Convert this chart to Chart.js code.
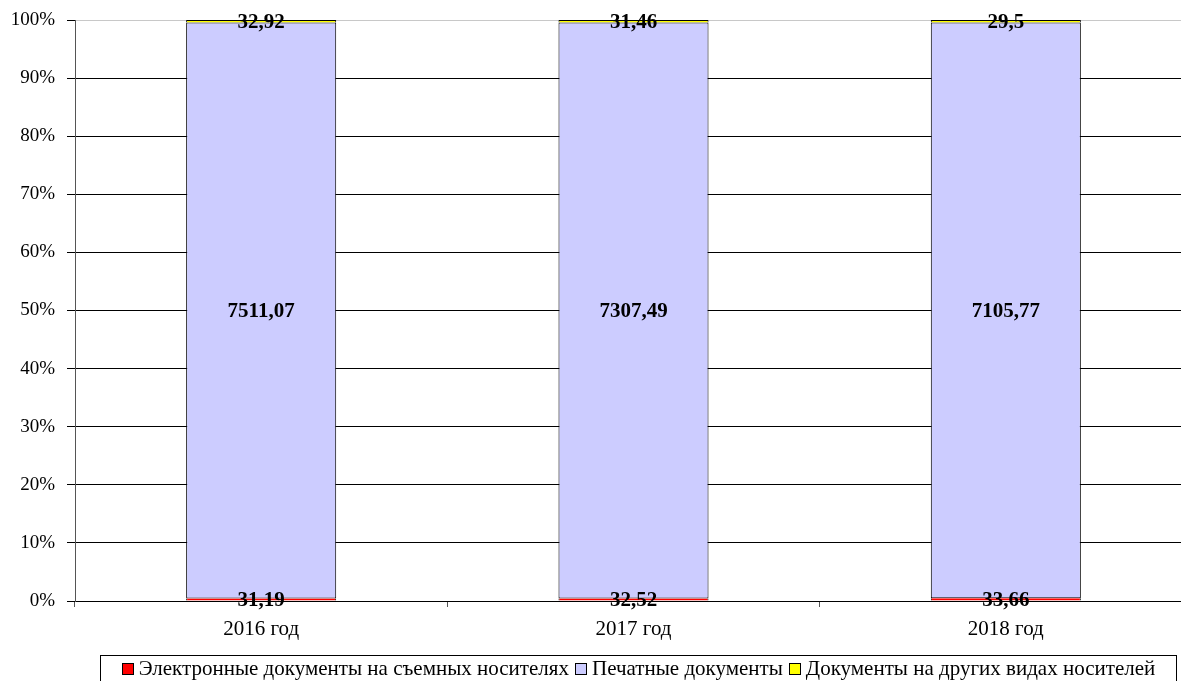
<!DOCTYPE html>
<html>
<head>
<meta charset="utf-8">
<script src="https://cdn.jsdelivr.net/npm/chart.js@4/dist/chart.umd.min.js"></script>
<style>
  html, body { margin: 0; padding: 0; background: #fff; overflow: hidden; }
  #wrap { position: relative; width: 1181px; height: 681px; overflow: hidden; }
  #c { position: absolute; left: 0; top: 0; }
  #legend {
    position: absolute; left: 100px; top: 655px; width: 1077px; height: 40px;
    border: 1px solid #000; box-sizing: border-box;
    font-family: "Liberation Serif", "Times New Roman", serif; font-size: 21px; color: #000;
    display: flex; justify-content: center; align-items: flex-start; padding-top: 0px; white-space: nowrap;
  }
  .li { display: inline-flex; align-items: center; margin: 0 3px; }
  .sw { width: 10px; height: 10px; border: 1px solid #000; margin-right: 5px; display: inline-block; }
</style>
</head>
<body>
<div id="wrap">
  <canvas id="c" width="1195" height="681"></canvas>
  <div id="legend"></div>
</div>
<script>
const categories = ["2016 год", "2017 год", "2018 год"];
const seriesNames = ["Электронные документы на съемных носителях", "Печатные документы", "Документы на других видах носителей"];
const electronic = [31.19, 32.52, 33.66];
const printed = [7511.07, 7307.49, 7105.77];
const other = [32.92, 31.46, 29.5];
const yTicks = [0, 10, 20, 30, 40, 50, 60, 70, 80, 90, 100];
const colors = ["#ff0000", "#ccccff", "#ffff00"];

const raw = [electronic, printed, other];
const totals = categories.map((_, i) => raw.reduce((s, arr) => s + arr[i], 0));
const pct = raw.map(arr => arr.map((v, i) => v / totals[i] * 100));

function fmt(v) { return String(v).replace('.', ','); }

const labelPlugin = {
  id: 'segLabels',
  afterDatasetsDraw(chart) {
    const ctx = chart.ctx;
    ctx.save();
    ctx.font = 'bold 21px "Liberation Serif", "Times New Roman", serif';
    ctx.fillStyle = '#000';
    ctx.textAlign = 'center';
    ctx.textBaseline = 'middle';
    chart.data.datasets.forEach((ds, di) => {
      const meta = chart.getDatasetMeta(di);
      meta.data.forEach((el, i) => {
        const p = el.getProps(['x', 'y', 'base'], true);
        ctx.fillText(fmt(raw[di][i]), p.x, (p.y + p.base) / 2 + 1);
      });
    });
    ctx.restore();
  }
};

const borders = [
  { left: 1, right: 1, top: 0, bottom: 0 },
  { left: 1, right: 1, top: 1, bottom: 1 },
  { left: 1, right: 1, top: 1, bottom: 0 }
];

new Chart(document.getElementById('c'), {
  type: 'bar',
  data: {
    labels: categories,
    datasets: seriesNames.map((n, i) => ({
      label: n,
      data: pct[i],
      backgroundColor: colors[i],
      borderColor: '#000',
      borderWidth: borders[i],
      borderSkipped: false,
      barPercentage: 0.403,
      categoryPercentage: 1
    }))
  },
  options: {
    responsive: false,
    animation: false,
    devicePixelRatio: 1,
    layout: { padding: { top: 20, left: 0, right: 3, bottom: 0 } },
    plugins: { legend: { display: false }, tooltip: { enabled: false } },
    scales: {
      x: {
        stacked: true,
        afterFit(s) { s.height = 80; s.paddingLeft = 0; s.paddingRight = 0; },
        grid: { drawOnChartArea: false, drawTicks: true, tickLength: 6, color: '#555', offset: true },
        border: { display: true, color: '#000' },
        ticks: { padding: 10, color: '#000', font: { family: '"Liberation Serif", "Times New Roman", serif', size: 21 } }
      },
      y: {
        stacked: true,
        min: 0, max: 100,
        afterFit(s) { s.width = 75; s.paddingTop = 0; s.paddingBottom = 0; },
        afterBuildTicks(s) { s.ticks = yTicks.map(v => ({ value: v })); },
        grid: {
          color: ctx => (ctx.tick && ctx.tick.value === 100) ? '#c8c8c8' : '#000',
          tickLength: 8,
          tickColor: '#000'
        },
        border: { display: true, color: '#555' },
        ticks: {
          padding: 12,
          color: '#000',
          font: { family: '"Liberation Serif", "Times New Roman", serif', size: 19 },
          callback: v => v + '%'
        }
      }
    }
  },
  plugins: [labelPlugin]
});

const lg = document.getElementById('legend');
seriesNames.forEach((n, i) => {
  const d = document.createElement('span');
  d.className = 'li';
  d.innerHTML = '<span class="sw" style="background:' + colors[i] + '"></span>' + n;
  lg.appendChild(d);
});
</script>
</body>
</html>
